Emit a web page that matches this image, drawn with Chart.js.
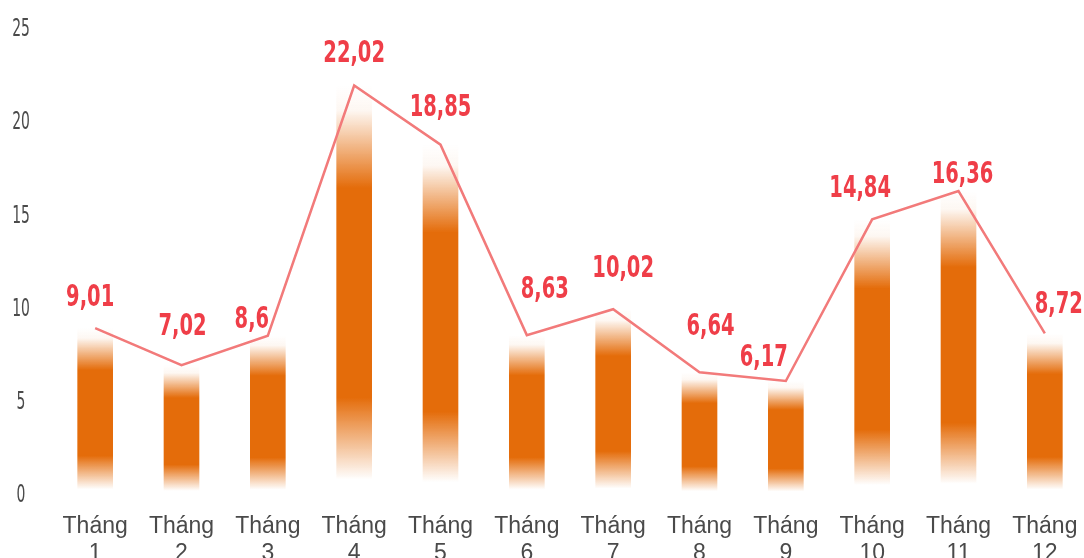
<!DOCTYPE html>
<html>
<head>
<meta charset="utf-8">
<script src="https://cdn.jsdelivr.net/npm/chart.js@4.4.1/dist/chart.umd.min.js"></script>
<style>
  html, body { margin: 0; padding: 0; background: #fff; overflow: hidden; width: 1084px; height: 558px; }
  canvas { display: block; }
</style>
</head>
<body>
<canvas id="c" width="1090" height="558"></canvas>
<script>
// ---- data ----
const categories = [['Tháng','1'],['Tháng','2'],['Tháng','3'],['Tháng','4'],['Tháng','5'],['Tháng','6'],
                    ['Tháng','7'],['Tháng','8'],['Tháng','9'],['Tháng','10'],['Tháng','11'],['Tháng','12']];
const values = [9.01, 7.02, 8.6, 22.02, 18.85, 8.63, 10.02, 6.64, 6.17, 14.84, 16.36, 8.72];
const valueLabels = ['9,01','7,02','8,6','22,02','18,85','8,63','10,02','6,64','6,17','14,84','16,36','8,72'];
const yTicks = [0, 5, 10, 15, 20, 25];

// ---- style ----
const BAR_RGB = '228,108,10';
const LINE_COLOR = '#F27A7A';
const LABEL_COLOR = '#EF3E48';
const TICK_COLOR = '#4a4a4a';
// label offsets relative to the point: [dx, gap above point]
const labelOffsets = [[-5,22],[1,30],[-16,8],[0,24],[0,29],[18,37],[10,32],[11,37],[-22,15],[-12,22],[4,8],[14,20]];

function barGradient(ctx) {
  const chart = ctx.chart;
  if (!chart.chartArea || ctx.type !== 'data') return 'rgb(' + BAR_RGB + ')';
  const ys = chart.scales.y;
  const top = ys.getPixelForValue(ctx.raw);
  const base = ys.getPixelForValue(0);
  const g = chart.ctx.createLinearGradient(0, top, 0, base);
  g.addColorStop(0, 'rgba(' + BAR_RGB + ',0)');
  g.addColorStop(0.06, 'rgba(' + BAR_RGB + ',0.05)');
  g.addColorStop(0.25, 'rgba(' + BAR_RGB + ',1)');
  g.addColorStop(0.76, 'rgba(' + BAR_RGB + ',1)');
  g.addColorStop(0.96, 'rgba(' + BAR_RGB + ',0)');
  g.addColorStop(1, 'rgba(' + BAR_RGB + ',0)');
  return g;
}

// condensed text helper (horizontal squeeze of a regular font)
function narrowText(c, text, x, y, sx) {
  c.save();
  c.translate(x, y);
  c.scale(sx, 1);
  c.fillText(text, 0, 0);
  c.restore();
}

const labelPlugin = {
  id: 'valueLabels',
  afterDatasetsDraw(chart) {
    const meta = chart.getDatasetMeta(1);
    const c = chart.ctx;
    c.save();
    c.font = 'bold 30px "DejaVu Sans", sans-serif';
    c.fillStyle = LABEL_COLOR;
    c.textAlign = 'center';
    c.textBaseline = 'alphabetic';
    meta.data.forEach((pt, i) => {
      const off = labelOffsets[i];
      narrowText(c, valueLabels[i], pt.x + off[0], pt.y - off[1], 0.65);
    });
    c.restore();
  }
};

const yLabelPlugin = {
  id: 'yLabels',
  afterDraw(chart) {
    const ys = chart.scales.y;
    const c = chart.ctx;
    c.save();
    c.font = '24px "DejaVu Sans", sans-serif';
    c.fillStyle = TICK_COLOR;
    c.textAlign = 'center';
    c.textBaseline = 'middle';
    ys.ticks.forEach(t => {
      narrowText(c, String(t.value), 21, ys.getPixelForValue(t.value), 0.58);
    });
    c.restore();
  }
};

new Chart(document.getElementById('c'), {
  data: {
    labels: categories,
    datasets: [
      {
        type: 'bar',
        data: values,
        backgroundColor: barGradient,
        borderWidth: 0,
        barThickness: 35,
        order: 2
      },
      {
        type: 'line',
        data: values,
        borderColor: LINE_COLOR,
        borderWidth: 2.5,
        pointRadius: 0,
        tension: 0,
        fill: false,
        order: 1
      }
    ]
  },
  options: {
    responsive: false,
    animation: false,
    layout: { padding: { top: 30, right: 2, left: 0, bottom: 0 } },
    plugins: { legend: { display: false }, tooltip: { enabled: false } },
    scales: {
      x: {
        grid: { display: false },
        border: { display: false },
        ticks: {
          color: TICK_COLOR,
          font: { family: '"Liberation Sans", Arial, sans-serif', size: 23, lineHeight: 1.18 },
          padding: 9,
          maxRotation: 0,
          autoSkip: false
        },
        afterFit(scale) { scale.height = 62; }
      },
      y: {
        min: 0,
        max: 25,
        grid: { display: false },
        border: { display: false },
        afterBuildTicks(scale) { scale.ticks = yTicks.map(v => ({ value: v })); },
        ticks: { display: false },
        afterFit(scale) { scale.width = 52; }
      }
    }
  },
  plugins: [labelPlugin, yLabelPlugin]
});
</script>
</body>
</html>
